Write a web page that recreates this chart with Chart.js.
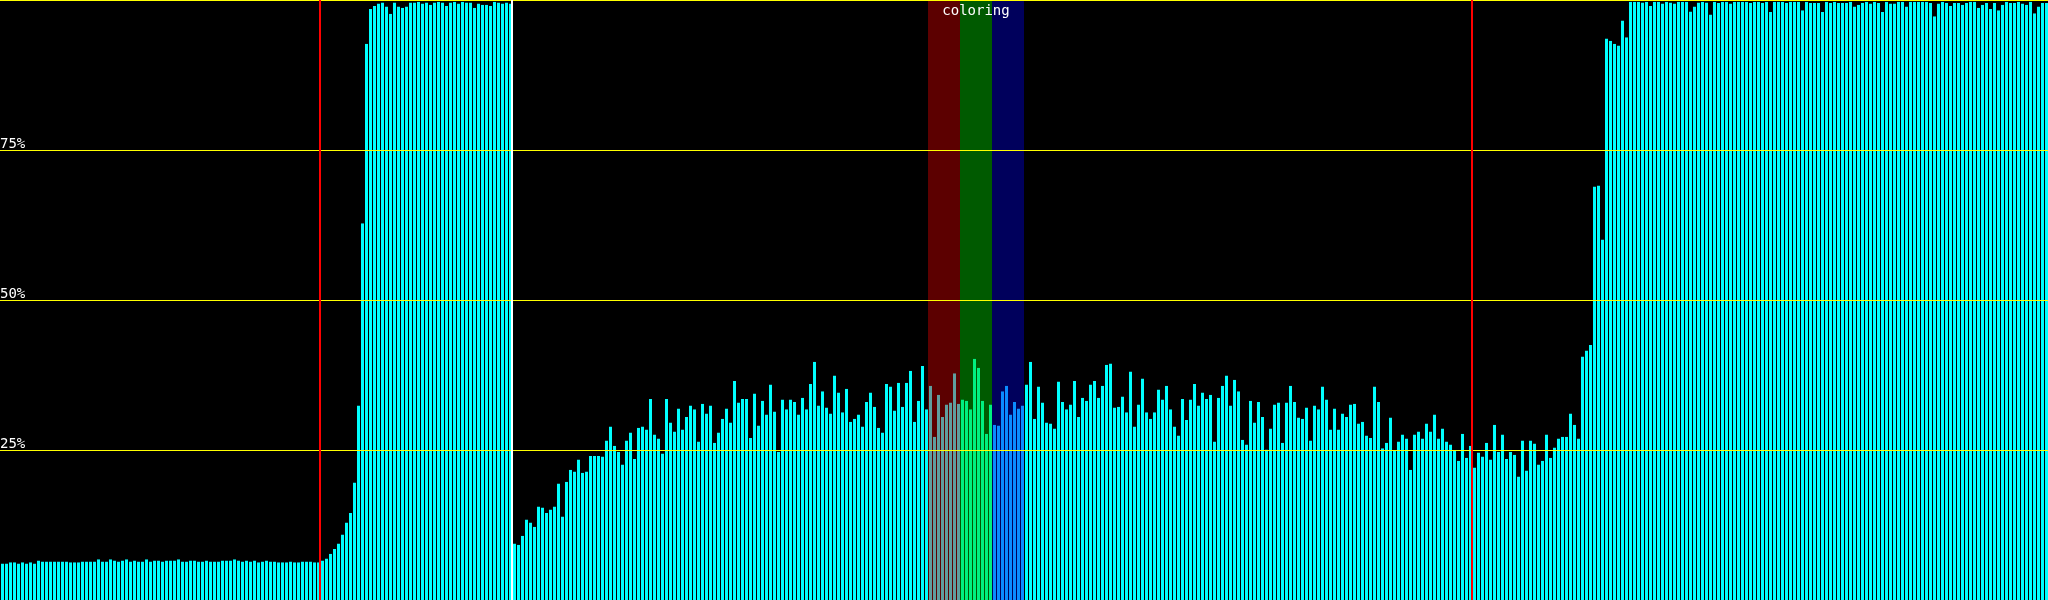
<!DOCTYPE html>
<html>
<head>
<meta charset="utf-8">
<script src="https://cdn.jsdelivr.net/npm/chart.js@4"></script>
<style>
  html, body { margin: 0; padding: 0; background: #000; overflow: hidden; }
  canvas { display: block; background: #000; }
</style>
</head>
<body>
<canvas id="loadCanvas" width="2048" height="600"></canvas>
<script>
// usage per sample, in percent (512 samples)
var idle = [
  6.1,6.1,6.3,6.3,6.1,6.3,6.1,6.3,6.1,6.6,
  6.4,6.4,6.4,6.4,6.4,6.4,6.4,6.3,6.3,6.3,
  6.4,6.4,6.4,6.4,6.8,6.4,6.4,6.8,6.6,6.4,
  6.6,6.8,6.4,6.6,6.4,6.4,6.8,6.4,6.6,6.6,
  6.4,6.6,6.6,6.6,6.8,6.4,6.4,6.6,6.6,6.4,
  6.4,6.6,6.4,6.4,6.4,6.6,6.6,6.6,6.8,6.6,
  6.4,6.6,6.4,6.6,6.3,6.4,6.6,6.4,6.4,6.3,
  6.3,6.3,6.4,6.3,6.3,6.4,6.4,6.4,6.3,6.3
];
var loading = [
  6.6,6.9,7.7,8.5,9.4,10.9,
  12.9,14.5,19.6,32.4,62.8,92.7,98.5,99.0,99.4,99.6,
  98.9,97.7,99.6,98.9,98.7,98.9,99.6,99.6,99.7,99.4,
  99.6,99.2,99.6,99.7,99.6,99.0,99.6,99.7,99.4,99.7,
  99.6,99.6,98.7,99.4,99.2,99.2,99.0,99.7,99.6,99.4,99.6,99.4
];
var renderA = [
  9.4,9.2,10.7,13.4,12.9,12.2,15.6,15.4,14.5,15.1,
  15.6,19.4,13.9,19.7,21.7,21.4,23.4,21.2,21.4,24.0,
  24.0,24.0,23.9,26.6,28.9,25.7,24.7,22.6,26.6,27.9,
  23.5,28.7,28.9,28.4,33.5,27.6,26.9,24.4,33.5,29.6,
  28.1,31.9,28.4,
  30.5,32.4,31.8,26.4,32.7,31.1,32.4,26.2,27.9,30.2,
  31.9,29.6,36.5,32.9,33.5,33.5,27.0,34.4,29.1,33.2,
  30.9,35.9,31.4,24.7,33.4,31.8,33.4,33.0,30.9,33.7,
  31.8,36.0,39.7,32.4,34.8,32.1,31.1,37.4,34.6,31.3,
  35.2,29.7,30.2
];
var renderB = [
  30.9,28.9,33.0,34.6,32.2,28.7,27.9,36.0,35.6,31.6,
  36.2,32.2,36.2,38.2,29.7,33.2,39.0,31.8,35.7,27.2,
  34.2,30.5,32.6,32.9,37.8,32.7,33.4,33.2,31.8,40.2,
  38.7,33.2,27.7,32.6,29.2,29.1,34.8,35.7,30.9,33.0,
  31.9,32.4,35.9,
  39.7,30.2,35.6,32.9,29.6,29.4,28.6,36.4,33.0,31.8,
  32.6,36.5,30.5,33.7,33.2,35.9,36.5,33.7,35.7,39.2,
  39.4,32.1,32.2,33.9,31.3,38.1,28.9,32.6,36.9,31.3,
  30.2,31.3,35.1,33.4,35.7,31.8,28.9,27.4,33.5,30.0,
  33.4,36.0
];
var renderC = [
  32.4,34.6,33.5,34.2,26.4,33.7,35.7,37.4,32.4,36.7,
  34.8,26.7,25.9,33.2,29.6,33.0,30.5,25.1,28.6,32.6,
  32.9,26.2,32.9,35.7,33.0,30.4,30.2,32.1,26.6,32.4,
  31.8,35.6,33.4,28.4,31.9,28.4,31.1,30.5,32.6,32.7,
  29.4,29.7,27.4,
  27.0,35.6,33.0,25.3,26.2,30.4,24.9,26.4,27.6,26.9,
  21.7,27.6,28.1,26.9,29.4,28.1,30.9,26.9,28.6,26.4,
  25.9,24.9,23.2,27.7,23.7,25.7,22.1,24.6,23.9,26.2,
  23.4,29.2,24.7,27.6,23.5,24.7,24.2,20.6,26.6,21.6,
  26.6,26.1,22.6
];
var tail = [
  23.2,27.6,23.7,25.4,26.9,27.2,27.2,31.1,29.2,26.9,
  40.6,41.6,42.5,68.9,69.1,60.1,93.6,93.2,92.7,92.4,
  96.6,93.8,99.7,99.7,99.7,99.6,99.7,99.0,99.7,99.7,
  99.4,99.7,99.6,99.4,99.7,99.7,99.7,98.1,98.9,99.6,
  99.7,99.6,97.6,
  99.7,99.5,99.7,99.7,99.4,99.7,99.7,99.7,99.7,99.5,
  99.7,99.7,99.5,99.7,98.0,99.7,99.7,99.7,99.5,99.7,
  99.7,99.7,98.3,99.7,99.5,99.5,99.5,98.0,99.7,99.5,
  99.7,99.5,99.5,99.5,99.7,98.9,99.2,99.5,99.7,99.4,
  99.7,99.5,
  98.0,99.7,99.4,99.4,99.7,99.7,98.9,99.7,99.7,99.7,
  99.7,99.7,99.5,97.3,99.4,99.7,99.5,99.0,99.5,99.5,
  99.2,99.5,99.7,99.7,98.7,99.2,99.5,98.5,99.5,98.3,
  99.2,99.7,99.5,99.5,99.7,99.4,99.2,99.7,97.8,98.9,
  99.5,99.5
];
var gridSteps = [25, 50, 75, 100];
var redMarks = [80, 368];     // sample index where the red marker sits
var whiteMarks = [128];
var bandTitle = 'coloring';
var bandFirst = [232, 240, 248];  // first sample of each coloured band
var bandSize = 8;

var usage = idle.concat(loading, renderA, renderB, renderC, tail);
var categories = usage.map(function (v, i) { return i; });

var yMin = 0, yMax = 100;
var barCyan = '#00ffff';
var bandBg = ['#5c0000', '#005a00', '#00005c'];
var bandBar = ['#5f9e9e', '#00f080', '#0a8cff'];

function bandOf(i) {
  for (var b = 0; b < bandFirst.length; b++) {
    if (i >= bandFirst[b] && i < bandFirst[b] + bandSize) return b;
  }
  return -1;
}

var overlay = {
  id: 'overlay',
  afterDraw: function (chart) {
    var ctx = chart.ctx, a = chart.chartArea, x = chart.scales.x;
    var edge = function (i) { return (x.getPixelForValue(i - 1) + x.getPixelForValue(i)) / 2; };
    ctx.save();
    ctx.lineWidth = 2;
    ctx.strokeStyle = '#ff0000';
    redMarks.forEach(function (i) {
      ctx.beginPath(); ctx.moveTo(edge(i), a.top); ctx.lineTo(edge(i), a.bottom); ctx.stroke();
    });
    ctx.strokeStyle = '#ffffff';
    whiteMarks.forEach(function (i) {
      ctx.beginPath(); ctx.moveTo(edge(i), a.top); ctx.lineTo(edge(i), a.bottom); ctx.stroke();
    });
    var last = bandFirst[bandFirst.length - 1] + bandSize;
    ctx.fillStyle = '#ffffff';
    ctx.font = '14px "DejaVu Sans Mono"';
    ctx.textAlign = 'center';
    ctx.textBaseline = 'top';
    ctx.fillText(bandTitle, (edge(bandFirst[0]) + edge(last)) / 2, 4);
    ctx.restore();
  }
};

var ctx = document.getElementById('loadCanvas').getContext('2d');
var myChart = new Chart(ctx, {
  type: 'bar',
  data: {
    labels: categories,
    datasets: [{
      data: usage,
      backgroundColor: categories.map(function (i) { var b = bandOf(i); return b < 0 ? barCyan : bandBar[b]; }),
      borderColor: 'rgba(0,0,0,0)',
      borderWidth: { left: 1, right: 0, top: 0, bottom: 0 },
      borderSkipped: false,
      barThickness: 4,
      inflateAmount: 0,
      base: yMin,
      grouped: false,
      order: 1
    }, {
      data: categories.map(function (i) { return bandOf(i) < 0 ? null : yMax; }),
      backgroundColor: categories.map(function (i) { var b = bandOf(i); return b < 0 ? 'rgba(0,0,0,0)' : bandBg[b]; }),
      borderWidth: 0,
      barThickness: 4,
      inflateAmount: 0,
      base: yMin,
      grouped: false,
      order: 2
    }]
  },
  options: {
    responsive: false,
    animation: false,
    devicePixelRatio: 1,
    layout: { padding: 0 },
    plugins: { legend: { display: false }, tooltip: { enabled: false } },
    scales: {
      x: { display: false, offset: true },
      y: {
        min: yMin,
        max: yMax,
        z: 1,
        afterBuildTicks: function (s) { s.ticks = gridSteps.map(function (v) { return { value: v }; }); },
        // labels sit inside the plot, so no room is kept for them
        afterFit: function (s) { s.paddingTop = 0; s.paddingBottom = 0; s.width = 0; },
        grid: { color: '#ffff00', lineWidth: 1, drawTicks: false, z: 1 },
        border: { display: false },
        ticks: {
          mirror: true,
          padding: 0,
          labelOffset: -6,
          color: '#ffffff',
          font: { family: 'DejaVu Sans Mono', size: 14 },
          callback: function (v) { return v === 100 ? '' : v + '%'; }
        }
      }
    }
  },
  plugins: [overlay]
});
</script>
</body>
</html>
